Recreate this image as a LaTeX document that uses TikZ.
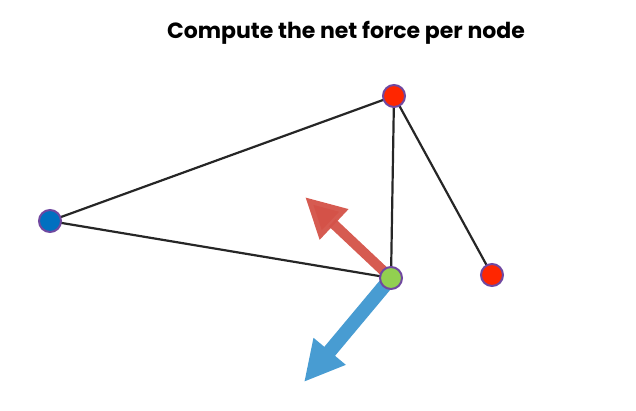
\documentclass[tikz,border=0pt]{standalone}
\usepackage{fontspec}
\setmainfont{Poppins}
\usetikzlibrary{arrows.meta}
\definecolor{nodered}{RGB}{255,38,0}
\definecolor{nodeblue}{RGB}{0,112,192}
\definecolor{nodegreen}{RGB}{146,208,80}
\definecolor{rim}{RGB}{112,72,160}
\definecolor{forcered}{RGB}{212,82,72}
\definecolor{forceblue}{RGB}{72,156,210}
\begin{document}
\begin{tikzpicture}[x=1pt,y=-1pt,
    vertex/.style={circle, draw=rim, line width=2pt, minimum size=22pt, inner sep=0pt},
    edge/.style={draw=black!85, line width=2.2pt},
    force/.style={line width=#1, -{Triangle[length=40pt,width=39pt]}}]
    \useasboundingbox (0,0) rectangle (636,410);
    \node (title) at (346,33) {\fontsize{22}{26}\selectfont\bfseries Compute the net force per node};
    \coordinate (left) at (50,221);
    \coordinate (top) at (394,96);
    \coordinate (mid) at (391,278);
    \coordinate (right) at (492,275);
    \coordinate (pull) at (305,197);
    \coordinate (push) at (304,382);
    \draw [edge] (left) -- (top);
    \draw [edge] (left) -- (mid);
    \draw [edge] (top) -- (mid);
    \draw [edge] (top) -- (right);
    \draw [force=10pt, forcered, draw opacity=0.95] (mid) -- (pull);
    \draw [force=14pt, forceblue] (mid) -- (push);
    \node (nleft) at (left) [vertex, fill=nodeblue] {};
    \node (ntop) at (top) [vertex, fill=nodered] {};
    \node (nmid) at (mid) [vertex, fill=nodegreen] {};
    \node (nright) at (right) [vertex, fill=nodered] {};
\end{tikzpicture}
\end{document}
